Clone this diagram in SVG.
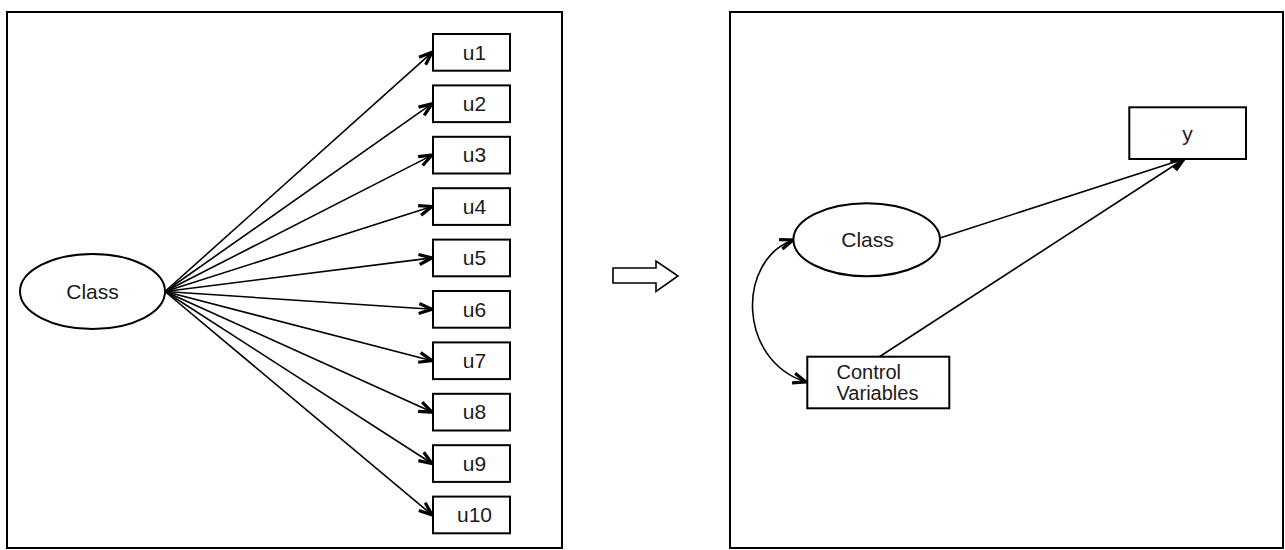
<svg xmlns="http://www.w3.org/2000/svg" width="1285" height="550" viewBox="0 0 1285 550">
  <style>
    .panel { fill: #fff; stroke: #000; stroke-width: 2; }
    .node { fill: #fff; stroke: #000; stroke-width: 2; }
    .lbl { font-family: "Liberation Sans", Arial, sans-serif; font-size: 21px; fill: #1a1a1a; text-anchor: middle; }
    .lbl-l { font-family: "Liberation Sans", Arial, sans-serif; font-size: 20px; fill: #1a1a1a; }
    .edge { fill: none; stroke: #000; stroke-width: 1.6; }
    .big-arrow { fill: #fff; stroke: #000; stroke-width: 1.6; }
  </style>
  <defs>
    <marker id="head" viewBox="-16 -8 18 16" refX="0" refY="0" markerWidth="18" markerHeight="16" markerUnits="userSpaceOnUse" orient="auto-start-reverse">
      <path d="M-13,-5 L0,0 L-13,5" fill="none" stroke="#000" stroke-width="3.2" stroke-linejoin="miter"/>
    </marker>
  </defs>

  <rect width="1285" height="550" fill="#fff"/>

  <!-- panel frames -->
  <rect class="panel" x="7" y="12" width="555" height="536"/>
  <rect class="panel" x="730" y="12" width="553" height="536"/>

  <!-- block arrow between panels -->
  <path class="big-arrow" d="M613,268 L656,268 L656,261 L678,276 L656,291.5 L656,283 L613,283 Z"/>

  <!-- connectors -->
  <g id="connectors">
    <line class="edge" marker-end="url(#head)" x1="165" y1="291.5" x2="432" y2="52.3"/>
    <line class="edge" marker-end="url(#head)" x1="165" y1="291.5" x2="432" y2="103.7"/>
    <line class="edge" marker-end="url(#head)" x1="165" y1="291.5" x2="432" y2="155.1"/>
    <line class="edge" marker-end="url(#head)" x1="165" y1="291.5" x2="432" y2="206.5"/>
    <line class="edge" marker-end="url(#head)" x1="165" y1="291.5" x2="432" y2="257.9"/>
    <line class="edge" marker-end="url(#head)" x1="165" y1="291.5" x2="432" y2="309.3"/>
    <line class="edge" marker-end="url(#head)" x1="165" y1="291.5" x2="432" y2="360.7"/>
    <line class="edge" marker-end="url(#head)" x1="165" y1="291.5" x2="432" y2="412.1"/>
    <line class="edge" marker-end="url(#head)" x1="165" y1="291.5" x2="432" y2="463.5"/>
    <line class="edge" marker-end="url(#head)" x1="165" y1="291.5" x2="432" y2="514.9"/>

    <line class="edge" marker-end="url(#head)" x1="940" y1="238" x2="1184" y2="159"/>
    <line class="edge" marker-end="url(#head)" x1="879" y1="357" x2="1184" y2="159"/>
    <path class="edge" marker-start="url(#head)" marker-end="url(#head)" d="M793,240 C737,260 737,360 806,382"/>
  </g>

  <!-- left panel nodes -->
  <g id="class-left">
    <ellipse class="node" cx="92.5" cy="291.5" rx="72.5" ry="37.5"/>
    <text class="lbl" x="92.5" y="298.5">Class</text>
  </g>
  <g id="u1"><rect class="node" x="433" y="34" width="77" height="36.7"/><text class="lbl" x="474.5" y="59.5">u1</text></g>
  <g id="u2"><rect class="node" x="433" y="85.4" width="77" height="36.7"/><text class="lbl" x="474.5" y="110.9">u2</text></g>
  <g id="u3"><rect class="node" x="433" y="136.8" width="77" height="36.7"/><text class="lbl" x="474.5" y="162.3">u3</text></g>
  <g id="u4"><rect class="node" x="433" y="188.2" width="77" height="36.7"/><text class="lbl" x="474.5" y="213.7">u4</text></g>
  <g id="u5"><rect class="node" x="433" y="239.6" width="77" height="36.7"/><text class="lbl" x="474.5" y="265.1">u5</text></g>
  <g id="u6"><rect class="node" x="433" y="291" width="77" height="36.7"/><text class="lbl" x="474.5" y="316.5">u6</text></g>
  <g id="u7"><rect class="node" x="433" y="342.4" width="77" height="36.7"/><text class="lbl" x="474.5" y="367.9">u7</text></g>
  <g id="u8"><rect class="node" x="433" y="393.8" width="77" height="36.7"/><text class="lbl" x="474.5" y="419.3">u8</text></g>
  <g id="u9"><rect class="node" x="433" y="445.2" width="77" height="36.7"/><text class="lbl" x="474.5" y="470.7">u9</text></g>
  <g id="u10"><rect class="node" x="433" y="496.6" width="77" height="36.7"/><text class="lbl" x="474.5" y="522.1">u10</text></g>

  <!-- right panel nodes -->
  <g id="class-right">
    <ellipse class="node" cx="866.7" cy="239.7" rx="73.3" ry="36.5"/>
    <text class="lbl" x="867.5" y="246.7">Class</text>
  </g>
  <g id="control-variables">
    <rect class="node" x="807.3" y="356.7" width="142" height="51.6"/>
    <text class="lbl-l" x="836.5" y="378.5">Control</text>
    <text class="lbl-l" x="836.5" y="400">Variables</text>
  </g>
  <g id="y">
    <rect class="node" x="1129.3" y="107.3" width="116.7" height="51.7"/>
    <text class="lbl" x="1187.5" y="141">y</text>
  </g>
</svg>
